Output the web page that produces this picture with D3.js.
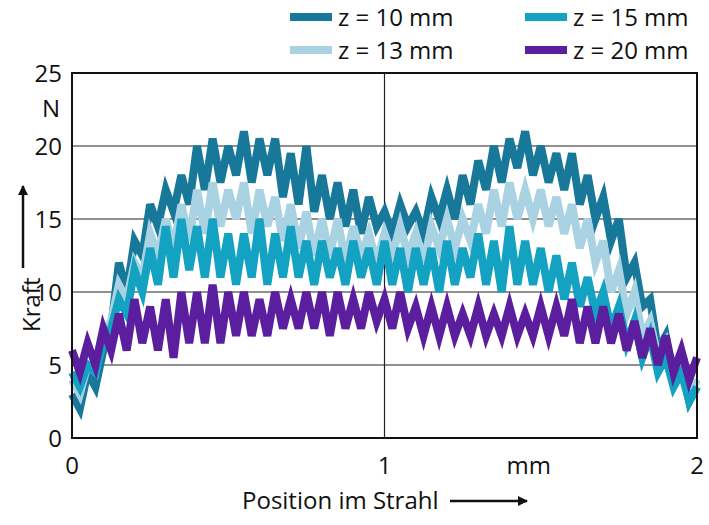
<!DOCTYPE html>
<html><head><meta charset="utf-8">
<script src="https://cdn.jsdelivr.net/npm/d3@7"></script>
<style>body{margin:0;background:#fff}text{font-family:"Open Sans",sans-serif;fill:#111}</style>
</head><body><div id="chart"></div>
<script>
"use strict";

const xStep = 0.025;
const z10 = [3,2,4.5,3.5,6,7.5,12,10,13.5,12.5,16,14.5,17,15.5,18,16,20,17,20.5,17.5,20,18,21,17.5,20.5,18,20.5,16.5,19.5,16,20,15.5,18,15,17.5,14.5,17,14,16.5,14.5,15.5,14,16,14.5,15.5,14,16.5,15,17,15,18,16,19,17,20,17.5,20.5,18.5,21,18,20,17.5,19.5,17,19.5,16,18,15,16.5,13.5,15,11,12,9,9.5,6,7,4,5,2.5,3.5];
const z13 = [4,3,5,4.5,7,8,10.5,9.5,12,11,14,12.5,15,13,16,13.5,17,14,17.5,14.5,17,15,17.5,14,17,14.5,16.5,13.5,16,13,15.5,12.5,15,12.5,15,12,14.5,12.5,14,12,14,12.5,14.5,12.5,14,12,14.5,13,15,13,15,13.5,16,14,17,14.5,17.5,15,17,15,17,14.5,16.5,14,16,13,15,12,13.5,10,11.5,8.5,10,7,8,5.5,6.5,4,5,3,4];
const z15 = [4.5,3.5,5,4.5,6.5,7.5,9.5,8.5,11.5,10,13,10.5,14.5,11,15,11.5,14.5,11,15,11,14,10.5,14,11,15,10.5,14,11,14.5,11,13.5,10.5,13.5,11,13,10.5,13.5,11,13,10.5,13.5,10.5,13,10,13,10.5,13,10,13.5,10.5,13,11,14,10.5,13.5,10,14.5,10.5,13.5,10.5,13,10,12.5,9.5,12,9,11,8.5,10,7.5,9,6.5,8,5.5,7,4.5,5.5,3.5,4.5,2.5,3.5];
const z20 = [6,4.5,6.5,5,7.5,6,8.5,6,9.5,6.5,9,6,9.5,5.5,10,6.5,10,6.5,10.5,6.5,10,7,10,7,9.5,7,10,7.5,9.5,7.5,10,7.5,10,7,10,7.5,9.5,7.5,10,8,9.5,7.5,10,7.5,9,7,9,7,9,7,8.5,7,9,7,8.5,7,9,7,8.5,7,9,7,9,7,9.5,6.5,9,6.5,9,6.5,8.5,6,8,5.5,7.5,5,7,4.5,6,4,5.5];

const seriesNames = ["z = 10 mm", "z = 13 mm", "z = 15 mm", "z = 20 mm"];
const seriesData = [z10, z13, z15, z20];
const colours = ["#18789a", "#a9d2e2", "#14a2c2", "#5a1e9e"];
const yTicks = [0, 5, 10, 15, 20, 25];

const W = 709, H = 525;
const margin = { top: 73, right: 12, bottom: 87, left: 72 };

const svg = d3.select("#chart").append("svg").attr("width", W).attr("height", H);

const x = d3.scaleLinear().domain([0, 2]).range([margin.left, W - margin.right]);
const y = d3.scaleLinear().domain([0, 25]).range([H - margin.bottom, margin.top]);

// grid
svg.append("g").selectAll("line").data(yTicks.slice(1, 5)).join("line")
  .attr("x1", x(0)).attr("x2", x(2))
  .attr("y1", d => y(d)).attr("y2", d => y(d))
  .attr("stroke", "#222").attr("stroke-width", 1.2);
svg.append("line").attr("x1", x(1)).attr("x2", x(1)).attr("y1", y(0)).attr("y2", y(25))
  .attr("stroke", "#222").attr("stroke-width", 1.2);

// lines
const line = d3.line().x((d, i) => x(i * xStep)).y(d => y(d));
svg.append("g").selectAll("path").data(seriesData).join("path")
  .attr("d", line)
  .attr("fill", "none")
  .attr("stroke", (d, i) => colours[i])
  .attr("stroke-width", 8)
  .attr("stroke-linejoin", "miter");

// frame
svg.append("rect").attr("x", x(0)).attr("y", y(25))
  .attr("width", x(2) - x(0)).attr("height", y(0) - y(25))
  .attr("fill", "none").attr("stroke", "#111").attr("stroke-width", 2);

// y labels
svg.append("g").selectAll("text").data(yTicks).join("text")
  .attr("x", 62).attr("y", d => y(d) + 9)
  .attr("text-anchor", "end").attr("font-size", 24)
  .text(d => d);
svg.append("text").attr("x", 60).attr("y", 117).attr("text-anchor", "end")
  .attr("font-size", 24).text("N");

// x labels
const xLabels = [[0, "0"], [1, "1"], [1.5, "mm"], [2, "2"]];
svg.append("g").selectAll("text").data(xLabels).join("text")
  .attr("x", d => x(d[0]) + (d[0] === 1.5 ? -12 : 0)).attr("y", 474)
  .attr("text-anchor", "middle").attr("font-size", 24)
  .text(d => d[1]);

// axis titles with arrows
svg.append("defs").append("marker").attr("id", "arr")
  .attr("viewBox", "0 0 10 10").attr("refX", 9).attr("refY", 5)
  .attr("markerWidth", 4).attr("markerHeight", 4).attr("orient", "auto")
  .append("path").attr("d", "M0,0L10,5L0,10z").attr("fill", "#111");

svg.append("text").attr("x", 242).attr("y", 509).attr("font-size", 24)
  .text("Position im Strahl");
svg.append("line").attr("x1", 450).attr("x2", 527).attr("y1", 501).attr("y2", 501)
  .attr("stroke", "#111").attr("stroke-width", 2.5).attr("marker-end", "url(#arr)");

svg.append("text").attr("transform", "translate(40,332) rotate(-90)").attr("font-size", 24)
  .text("Kraft");
svg.append("line").attr("x1", 23).attr("x2", 23).attr("y1", 268).attr("y2", 186)
  .attr("stroke", "#111").attr("stroke-width", 2.5).attr("marker-end", "url(#arr)");

// legend
const legendPos = [[290, 17], [290, 50], [525, 17], [525, 50]];
const lg = svg.append("g").selectAll("g").data(seriesNames).join("g")
  .attr("transform", (d, i) => `translate(${legendPos[i][0]},${legendPos[i][1]})`);
lg.append("line").attr("x1", 0).attr("x2", 42).attr("stroke", (d, i) => colours[i])
  .attr("stroke-width", 8);
lg.append("text").attr("x", 48).attr("y", 9).attr("font-size", 24).text(d => d);
</script></body></html>
